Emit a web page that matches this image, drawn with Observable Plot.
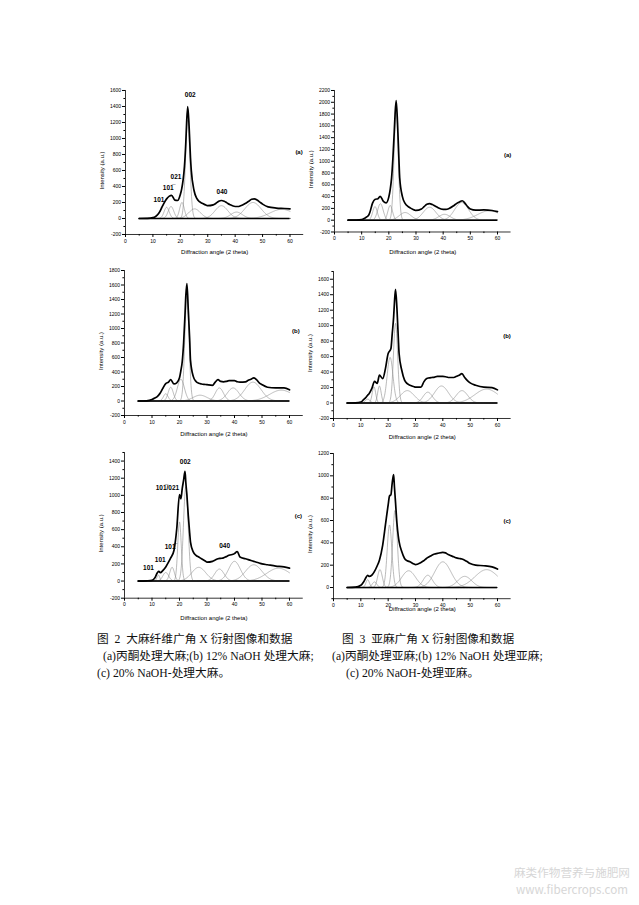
<!DOCTYPE html>
<html><head><meta charset="utf-8">
<script src="https://cdn.jsdelivr.net/npm/d3@7"></script>
<script src="https://cdn.jsdelivr.net/npm/@observablehq/plot@0.6"></script>
<style>
html,body{margin:0;padding:0;background:#fff;}
#page{position:relative;width:639px;height:905px;overflow:hidden;background:#fff;}
.panel{position:absolute;}
.cap{position:absolute;font-family:"Liberation Serif","Noto Sans CJK SC",serif;font-size:11.7px;color:#111;white-space:pre;line-height:12px;}
.wm{position:absolute;font-family:"Noto Sans CJK SC","DejaVu Sans",sans-serif;color:#d6d6d6;font-size:11.6px;white-space:nowrap;line-height:13px;}
</style></head><body><div id="page"></div>
<script>
// ---- data: diffraction angle grid (2 theta) ----
const angles = [5,8,10,11,12,12.5,13,14,15,16,16.8,18,19,20,20.5,21,21.5,22,22.3,22.7,23.2,23.7,24,25,26,27,28,29.5,30,32,33,34,35,36,37,38,40,41,42,44,45,46,47,48,49,50,52,55,58,60];

// measured intensities (a.u.) read at the angles above
const hempAcetone = [0,2,10,25,58,85,120,190,245,280,290,230,225,300,370,480,650,950,1200,1400,1150,760,600,350,250,210,190,165,160,170,190,215,225,215,195,175,150,150,160,195,215,240,245,230,205,180,145,130,125,120];
const flaxAcetone = [0,2,10,30,60,80,130,290,355,365,405,320,295,395,520,710,1050,1500,1800,2030,1650,1050,720,400,285,235,205,170,165,190,230,270,280,265,240,215,185,185,195,250,285,310,330,290,230,190,170,175,165,145];
const hempNaOH12 = [0,3,20,40,65,85,110,180,240,260,295,235,250,320,420,545,800,1190,1450,1620,1250,850,560,340,270,245,235,228,225,215,260,295,270,265,270,280,280,265,260,265,285,300,320,295,250,225,190,180,180,155];
const flaxNaOH12 = [0,3,13,43,78,100,120,185,280,255,360,315,445,640,670,700,900,1110,1300,1470,1230,850,640,420,295,250,230,210,205,205,270,315,325,330,335,345,345,340,330,330,345,360,380,330,290,260,230,205,200,170];
const hempNaOH20 = [0,3,8,35,100,113,97,125,165,220,270,360,610,1010,960,1080,1180,1280,1150,1000,760,560,455,340,300,280,260,230,220,230,245,260,265,270,285,300,320,345,280,260,250,240,230,220,210,200,190,175,165,150];
const flaxNaOH20 = [0,3,20,50,95,110,100,110,145,195,245,380,560,740,820,830,940,1010,900,760,580,460,410,320,260,240,230,210,205,225,240,260,275,290,300,305,315,310,295,275,265,260,255,245,230,215,200,195,185,165];

// fitted component peaks: [centre (deg), height (a.u.), FWHM (deg)]
const peaksHempAcetone = [[15.0,140,2.2],[16.6,150,2.4],[20.6,200,2.0],[22.7,1230,1.9],[25.2,120,5],[35,160,5.5],[40.5,80,5],[46.5,200,7],[57,115,10]];
const peaksFlaxAcetone = [[14.9,230,2.0],[16.9,280,2.4],[20.5,250,2.0],[22.7,1850,1.8],[26,130,5],[35,220,5.5],[40.5,100,5],[46.8,300,6],[57,160,10]];
const peaksHempNaOH12 = [[15,100,2],[16.8,190,2.2],[20.5,300,3],[22.7,1450,1.8],[27.5,80,6],[34.5,180,3.5],[39.5,180,5],[46.7,260,7],[57,150,10]];
const peaksFlaxNaOH12 = [[12.5,50,2],[14.8,210,1.5],[16.8,220,1.5],[20.7,590,2.5],[22.7,1030,1.8],[27,160,6],[34.5,140,4],[39.5,220,6],[47,160,5],[56,180,10]];
const peaksHempNaOH20 = [[12.3,70,1.2],[15,100,2.5],[17.3,160,2],[20,690,1.5],[22.3,1100,2],[27,160,6],[34.5,140,4],[40,230,5],[47,190,7],[56,150,10]];
const peaksFlaxNaOH20 = [[12.5,70,1.5],[15,50,2],[17,160,2],[20.5,560,2],[22.5,690,2],[27.5,150,6],[34.5,110,4],[40,230,7],[48,100,6],[56,160,10]];

// reflection labels
const hklTexts = ["002","021","101\u0305","101","040"];
const hklHempA_x = [23.6,18.4,15.6,12.2,35.2];
const hklHempA_y = [1550,516,384,234,338];
const hklTexts20 = ["002","101\u0305/021","101\u0305","101","101","040"];
const hklHempC_x = [22.1,15.6,16.6,13,8.7,36.4];
const hklHempC_y = [1388,1088,404,249,155,415];

// axis text
const xTitle = "Diffraction angle (2 theta)";
const yTitle = "Intensity (a.u.)";

// ---- layout (pixel positions on the page) ----
const layout = [
  {values:hempAcetone, peaks:peaksHempAcetone, x0:124.5, x60:289, yTopPix:90,  yBotPix:234,  yMin:-200, yMax:1600, xlabOff:18, letter:"(a)", lx:63.3, ly:825, hkl:[hklTexts,hklHempA_x,hklHempA_y]},
  {values:flaxAcetone, peaks:peaksFlaxAcetone, x0:334,   x60:497, yTopPix:90,  yBotPix:231.5,yMin:-200, yMax:2200, xlabOff:20.5, letter:"(a)", lx:63.7, ly:1102},
  {values:hempNaOH12,  peaks:peaksHempNaOH12,  x0:124.3, x60:289.3, yTopPix:270, yBotPix:415, yMin:-200, yMax:1800, xlabOff:19, letter:"(b)", lx:62.3, ly:959},
  {values:flaxNaOH12,  peaks:peaksFlaxNaOH12,  x0:333.3, x60:497.3, yTopPix:271.3, yBotPix:418.3, yMin:-200, yMax:1700, xlabOff:19, letter:"(b)", lx:63.5, ly:863},
  {values:hempNaOH20,  peaks:peaksHempNaOH20,  x0:124.3, x60:289.3, yTopPix:452, yBotPix:597.7, yMin:-200, yMax:1500, xlabOff:20, letter:"(c)", lx:63.2, ly:754, hkl:[hklTexts20,hklHempC_x,hklHempC_y]},
  {values:flaxNaOH20,  peaks:peaksFlaxNaOH20,  x0:333.3, x60:497.3, yTopPix:453.3, yBotPix:598.5, yMin:-100, yMax:1200, xlabOff:10.5, letter:"(c)", lx:63.5, ly:594}
];

const page = document.getElementById("page");
const grid = d3.range(5, 60.0001, 0.1);
const sansFont = "'Liberation Sans', Arial, 'DejaVu Sans', sans-serif";

function panel(cfg) {
  const mL = 34, mR = 10, mT = 8, mB = 30;
  const xr = (cfg.x60 - cfg.x0) * 65 / 60;
  const W = mL + xr + mR;
  const H = mT + (cfg.yBotPix - cfg.yTopPix) + mB;
  const comps = [];
  cfg.peaks.forEach((p, i) => {
    for (const x of grid) comps.push({k: i, x, y: p[1] * Math.exp(-4 * Math.LN2 * ((x - p[0]) / p[2]) ** 2)});
  });
  const meas = angles.map((a, i) => ({x: a, y: cfg.values[i]}));
  const major = d3.range(Math.ceil(cfg.yMin / 200) * 200, cfg.yMax + 1, 200);
  const minor = d3.range(Math.ceil(cfg.yMin / 100) * 100, cfg.yMax + 1, 100).filter(v => v % 200 !== 0);
  const xMajor = d3.range(0, 61, 10);
  const xMinor = d3.range(5, 61, 10);
  const marks = [
    Plot.line(comps, {x: "x", y: "y", z: "k", stroke: "#8c8c8c", strokeWidth: 0.6}),
    Plot.ruleY([0], {x1: 5, x2: 60, stroke: "#000", strokeWidth: 1.4}),
    Plot.line(meas, {x: "x", y: "y", stroke: "#000", strokeWidth: 1.7, curve: "monotone-x"}),
    Plot.ruleX([0], {y1: cfg.yMin, y2: cfg.yMax, stroke: "#000", strokeWidth: 0.8}),
    Plot.ruleY([cfg.yMin], {x1: 0, x2: 65, stroke: "#000", strokeWidth: 0.8}),
    Plot.axisY({ticks: major, tickSize: 3, tickPadding: 1.5, fontSize: 5, tickFormat: d => String(d), label: null}),
    Plot.axisY({ticks: minor, tickSize: 1.6, tickFormat: () => "", label: null}),
    Plot.axisX({ticks: xMajor, tickSize: 3, tickPadding: 1.5, fontSize: 5, tickFormat: d => String(d), label: null}),
    Plot.axisX({ticks: xMinor, tickSize: 1.6, tickFormat: () => "", label: null}),
    Plot.text([yTitle], {frameAnchor: "left", dx: -23, dy: 8, rotate: -90, fontSize: 6, textAnchor: "middle", lineAnchor: "middle", fill: "#000"}),
    Plot.text([xTitle], {frameAnchor: "bottom", dy: cfg.xlabOff, fontSize: 6, textAnchor: "middle", lineAnchor: "middle", fill: "#000"}),
    Plot.text([cfg.letter], {x: () => cfg.lx, y: () => cfg.ly, fontSize: 6, fontWeight: "bold", fill: "#000"})
  ];
  if (cfg.hkl) {
    const [t, xs, ys] = cfg.hkl;
    marks.push(Plot.text(t.map((s, i) => ({s, x: xs[i], y: ys[i]})), {x: "x", y: "y", text: "s", fontSize: 6.5, fontWeight: "bold", fill: "#000"}));
  }
  const chart = Plot.plot({
    width: W, height: H, marginLeft: mL, marginRight: mR, marginTop: mT, marginBottom: mB,
    x: {domain: [0, 65], label: null},
    y: {domain: [cfg.yMin, cfg.yMax], label: null},
    style: {fontFamily: sansFont, background: "transparent", overflow: "visible", color: "#000"},
    marks
  });
  chart.classList.add("panel");
  chart.style.left = (cfg.x0 - mL) + "px";
  chart.style.top = (cfg.yTopPix - mT) + "px";
  page.appendChild(chart);
}
layout.forEach(panel);

// captions
const captions = [
  {t: "图  2  大麻纤维广角 X 衍射图像和数据", l: 97, c: 640},
  {t: "(a)丙酮处理大麻;(b) 12% NaOH 处理大麻;", l: 103, c: 657},
  {t: "(c) 20% NaOH-处理大麻。", l: 97, c: 674},
  {t: "图  3  亚麻广角 X 衍射图像和数据", l: 342, c: 640},
  {t: "(a)丙酮处理亚麻;(b) 12% NaOH 处理亚麻;", l: 332, c: 657},
  {t: "(c) 20% NaOH-处理亚麻。", l: 346, c: 674}
];
for (const c of captions) {
  const d = document.createElement("div");
  d.className = "cap"; d.textContent = c.t;
  d.style.left = c.l + "px"; d.style.top = (c.c - 6) + "px";
  page.appendChild(d);
}
const wm = [["麻类作物营养与施肥网", 514, 866], ["www.fibercrops.com", 516, 883]];
for (const [t, l, tp] of wm) {
  const d = document.createElement("div");
  d.className = "wm"; d.textContent = t;
  d.style.left = l + "px"; d.style.top = tp + "px";
  page.appendChild(d);
}
</script></body></html>
